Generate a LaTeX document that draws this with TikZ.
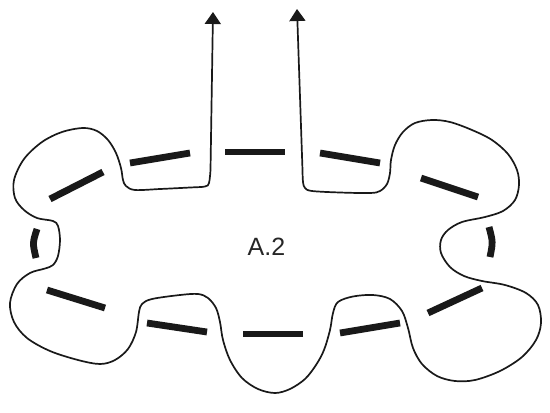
\documentclass[tikz,border=0pt]{standalone}
\usepackage{fontspec}
\setmainfont{Liberation Sans}
\usetikzlibrary{arrows.meta}
\tikzset{
  outline/.style={line width=1.7pt, line join=round, black!90},
  dashseg/.style={line width=6.8pt, line cap=butt, black!90},
  tiparrow/.style={{Triangle[length=12pt,width=16pt]}-{Triangle[length=12pt,width=16pt]}},
  label/.style={font=\fontsize{25}{30}\selectfont, inner sep=0pt, text=black!85}
}
\begin{document}
\begin{tikzpicture}[x=1pt,y=-1pt]
\useasboundingbox (0,0) rectangle (550,413);
\coordinate (tipL) at (213,12);
\coordinate (tipR) at (297,9);
\draw[outline, tiparrow] (tipL) -- (210.5,170) -- plot[smooth, tension=0.55] coordinates {
(210.5,170) (209,183) (205,186.5) (190,187.5) (160,189) (135,190) (126,186) (123,180)
(121,168) (116,153) (108,140) (97,131) (83,128) (62,132) (42,142) (24,159) (14,180)
(15,198) (24,210) (37,218) (53,221) (58,226) (60,240) (58,256) (53,265) (45,268.5)
(30,273) (17,284) (10,303) (14,322) (27,338) (50,351) (78,360) (100,364) (115,360)
(128,349) (136,332) (139,312) (142,304) (152,299) (180,295) (198,294) (208,298)
(216,308) (220,322) (223,340) (230,360) (242,378) (258,389) (275,393) (290,389)
(305,379) (316,365) (324,350) (330,330) (333,313) (338,302) (353,296.5) (373,295)
(390,299) (402,311) (408,328) (413,348) (422,364) (437,376) (455,381) (475,380)
(500,371) (522,357) (536,340) (541,323) (538,305) (526,293) (505,285) (482,281)
(464,276) (450,267) (441,253) (441,240) (448,230) (462,222) (485,217) (503,211)
(515,200) (519,185) (517,170) (508,154) (492,140) (472,130) (450,122) (432,120)
(415,123) (403,132) (395,145) (391,160) (390,173) (387,184) (380,191) (370,193)
(340,192.5) (312,191) (305,188) (303,182) (302.5,170)} -- (tipR);
% dashed ring
\draw[dashseg] (225,152) -- (285,152);
\draw[dashseg] (320,153) -- (380,163);
\draw[dashseg] (421,178) -- (478,197);
\draw[dashseg] (489,227) .. controls (493,242) .. (490,257);
\draw[dashseg] (482,288) -- (428,313);
\draw[dashseg] (400,323) -- (340,333);
\draw[dashseg] (303,334) -- (243,334);
\draw[dashseg] (207,332) -- (147,323);
\draw[dashseg] (105,308) -- (47,290);
\draw[dashseg] (36,258) .. controls (32.5,243) .. (37,229);
\draw[dashseg] (50,199) -- (103,172);
\draw[dashseg] (130,163) -- (190,153);
\node[label] (lbl) at (266.5,247) {A.2};
\end{tikzpicture}
\end{document}
